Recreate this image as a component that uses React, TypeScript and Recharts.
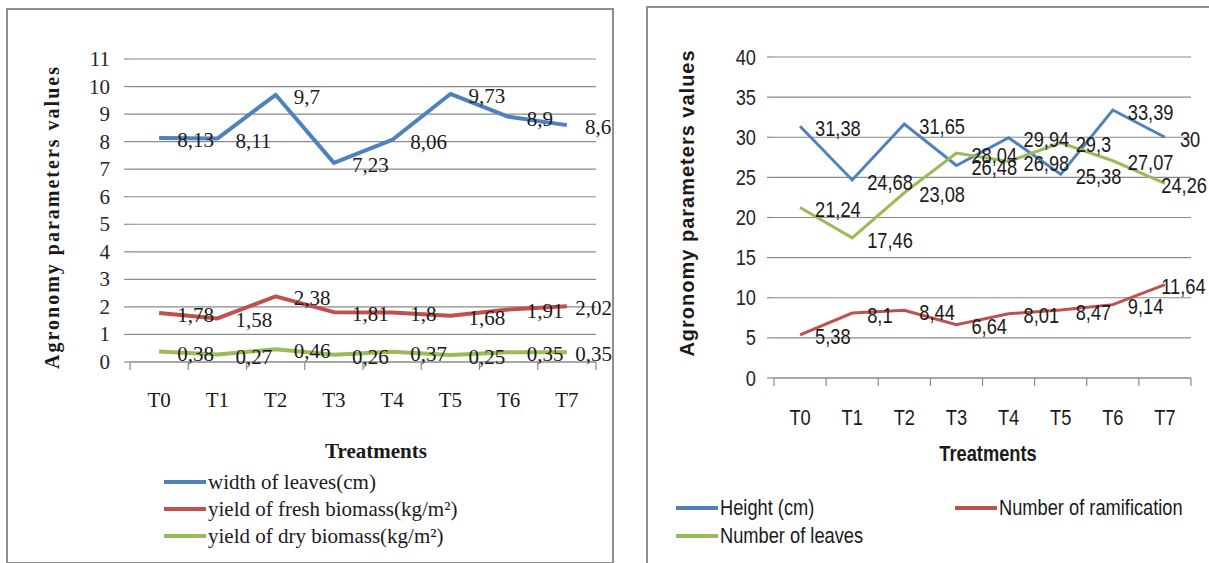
import { LineChart, Line, XAxis, YAxis, CartesianGrid, Legend, LabelList } from 'recharts';

// treatments and the two panels' series
const TREATMENTS = ['T0', 'T1', 'T2', 'T3', 'T4', 'T5', 'T6', 'T7'];

const WIDTH_LEAVES = [8.13, 8.11, 9.7, 7.23, 8.06, 9.73, 8.9, 8.6];
const FRESH_BIOMASS = [1.78, 1.58, 2.38, 1.81, 1.8, 1.68, 1.91, 2.02];
const DRY_BIOMASS = [0.38, 0.27, 0.46, 0.26, 0.37, 0.25, 0.35, 0.35];

const HEIGHT = [31.38, 24.68, 31.65, 26.48, 29.94, 25.38, 33.39, 30];
const RAMIFICATION = [5.38, 8.1, 8.44, 6.64, 8.01, 8.47, 9.14, 11.64];
const LEAVES = [21.24, 17.46, 23.08, 28.04, 26.98, 29.3, 27.07, 24.26];

const LEFT_TICKS = [0, 1, 2, 3, 4, 5, 6, 7, 8, 9, 10, 11];
const RIGHT_TICKS = [0, 5, 10, 15, 20, 25, 30, 35, 40];
// category boundaries, so tick marks fall between treatments like Excel does
const BOUNDS = [-0.5, 0.5, 1.5, 2.5, 3.5, 4.5, 5.5, 6.5, 7.5];

const leftData = TREATMENTS.map((t, i) => ({ i, t, width: WIDTH_LEAVES[i], fresh: FRESH_BIOMASS[i], dry: DRY_BIOMASS[i] }));
const rightData = TREATMENTS.map((t, i) => ({ i, t, height: HEIGHT[i], ram: RAMIFICATION[i], leaves: LEAVES[i] }));

const BLUE = '#4f81bd';
const RED = '#c0504d';
const GREEN = '#9bbb59';
const GRID = '#8a8a8a';
const INK = '#1a1a1a';
const SERIF = '"Liberation Serif", "Times New Roman", serif';
const SANS = '"Liberation Sans", Arial, sans-serif';
const SQUEEZE = 0.83; // no narrow sans installed, so squash Liberation Sans

// plain serif text (left panel)
const SText = ({ x, y, anchor = 'start', size = 21, bold = false, fill = INK, children }: any) => (
  <text x={x} y={y} textAnchor={anchor} dominantBaseline="central" fontFamily={SERIF} fontSize={size} fontWeight={bold ? 'bold' : 'normal'} fill={fill}>
    {children}
  </text>
);

// condensed sans text (right panel)
const NText = ({ x, y, anchor = 'start', size = 22, bold = false, fill = INK, children }: any) => (
  <text transform={`translate(${x} ${y}) scale(${SQUEEZE} 1)`} textAnchor={anchor} dominantBaseline="central" fontFamily={SANS} fontSize={size} fontWeight={bold ? 'bold' : 'normal'} fill={fill}>
    {children}
  </text>
);

const fmt = (v: number) => String(v).replace('.', ',');

const makeTick = (T: any, bw: number, y: number) => (props: any) => {
  const idx = Math.round(props.payload.value + 0.5);
  if (idx < 0 || idx >= TREATMENTS.length) return <g />;
  return <T x={props.x + bw / 2} y={y} anchor="middle">{TREATMENTS[idx]}</T>;
};

const makeYTick = (T: any) => (props: any) => <T x={props.x} y={props.y} anchor="end" fill="#262626">{props.payload.value}</T>;

// data labels sit right of the point, pushed back inside the panel near its edge (as Excel does)
const makeValueLabel = (T: any, dx: number, maxX: number, digitW: number, commaW: number) => (props: any) => {
  const s = fmt(props.value);
  const w = s.replace(',', '').length * digitW + (s.includes(',') ? commaW : 0);
  const x = Math.min(props.x + dx, maxX - w);
  return <T x={x} y={props.y + 2}>{s}</T>;
};

type Item = { label: string; color: string; x: number; y: number };

const makeLegend = (items: Item[], font: string, size: number, squeeze: number) => () => (
  <div style={{ position: 'relative', width: '100%', height: '100%' }}>
    {items.map(it => (
      <div key={it.label} style={{ position: 'absolute', left: it.x, top: it.y - 14, height: 28, display: 'flex', alignItems: 'center', whiteSpace: 'nowrap' }}>
        <span style={{ display: 'inline-block', width: 42, height: 4, background: it.color, marginRight: 2 }} />
        <span style={{ display: 'inline-block', fontFamily: font, fontSize: size, color: INK, transform: `scaleX(${squeeze})`, transformOrigin: 'left center' }}>{it.label}</span>
      </div>
    ))}
  </div>
);

const LW = 630, LH = 553;
const RW = 600, RH = 560;

const leftLabel = makeValueLabel(SText, 18, 605, 10.5, 5.25);
const rightLabel = makeValueLabel(NText, 15, 560, 22 * 0.556 * SQUEEZE, 22 * 0.278 * SQUEEZE);

const LeftChart = () => (
  <LineChart width={LW} height={LH} data={leftData} margin={{ top: 50, right: 41, left: 0, bottom: 160 }}>
    <CartesianGrid horizontal vertical={false} stroke={GRID} strokeWidth={1.2} />
    <XAxis
      dataKey="i" type="number" domain={[-0.5, 7.5]} ticks={BOUNDS} interval={0} height={40}
      axisLine={{ stroke: GRID, strokeWidth: 1.2 }} tickLine={{ stroke: GRID, strokeWidth: 1.2 }} tickSize={8} tickMargin={0}
      tick={makeTick(SText, 466 / 8, 391)}
      label={{ content: () => <SText x={369} y={442} anchor="middle" bold>Treatments</SText> }}
    />
    <YAxis
      domain={[0, 11]} ticks={LEFT_TICKS} interval={0} width={123}
      axisLine={false} tickLine={{ stroke: GRID, strokeWidth: 1.2 }} tickSize={6} tickMargin={14}
      tick={makeYTick(SText)}
      label={{ content: () => <text x={45} y={208} transform="rotate(-90 45 208)" textAnchor="middle" dominantBaseline="central" fontFamily={SERIF} fontWeight="bold" fontSize={20} letterSpacing={2} fill={INK}>Agronomy parameters values</text> }}
    />
    <Legend
      layout="vertical" align="center" verticalAlign="middle"
      wrapperStyle={{ left: 0, top: 0, width: LW, height: LH, pointerEvents: 'none' }}
      content={makeLegend([
        { label: 'width of leaves(cm)', color: BLUE, x: 157, y: 473 },
        { label: 'yield of fresh biomass(kg/m²)', color: RED, x: 157, y: 500 },
        { label: 'yield of dry biomass(kg/m²)', color: GREEN, x: 157, y: 527 },
      ], SERIF, 21, 1)}
    />
    <Line dataKey="width" stroke={BLUE} strokeWidth={4} dot={false} isAnimationActive={false} strokeLinejoin="round">
      <LabelList dataKey="width" content={leftLabel} />
    </Line>
    <Line dataKey="fresh" stroke={RED} strokeWidth={4} dot={false} isAnimationActive={false} strokeLinejoin="round">
      <LabelList dataKey="fresh" content={leftLabel} />
    </Line>
    <Line dataKey="dry" stroke={GREEN} strokeWidth={4} dot={false} isAnimationActive={false} strokeLinejoin="round">
      <LabelList dataKey="dry" content={leftLabel} />
    </Line>
  </LineChart>
);

const RightChart = () => (
  <LineChart width={RW} height={RH} data={rightData} margin={{ top: 50, right: 56, left: 0, bottom: 149 }}>
    <CartesianGrid horizontal vertical={false} stroke={GRID} strokeWidth={1.2} />
    <XAxis
      dataKey="i" type="number" domain={[-0.5, 7.5]} ticks={BOUNDS} interval={0} height={40}
      axisLine={{ stroke: GRID, strokeWidth: 1.2 }} tickLine={{ stroke: GRID, strokeWidth: 1.2 }} tickSize={8} tickMargin={0}
      tick={makeTick(NText, 417 / 8, 410)}
      label={{ content: () => <NText x={341} y={446} anchor="middle" bold>Treatments</NText> }}
    />
    <YAxis
      domain={[0, 40]} ticks={RIGHT_TICKS} interval={0} width={127}
      axisLine={false} tickLine={{ stroke: GRID, strokeWidth: 1.2 }} tickSize={7} tickMargin={11}
      tick={makeYTick(NText)}
      label={{ content: () => <text x={40} y={196} transform="rotate(-90 40 196)" textAnchor="middle" dominantBaseline="central" fontFamily={SANS} fontWeight="bold" fontSize={20} letterSpacing={1} fill={INK}>Agronomy parameters values</text> }}
    />
    <Legend
      layout="vertical" align="center" verticalAlign="middle"
      wrapperStyle={{ left: 0, top: 0, width: RW, height: RH, pointerEvents: 'none' }}
      content={makeLegend([
        { label: 'Height (cm)', color: BLUE, x: 29, y: 501 },
        { label: 'Number of ramification', color: RED, x: 308, y: 501 },
        { label: 'Number of leaves', color: GREEN, x: 29, y: 529 },
      ], SANS, 22, SQUEEZE)}
    />
    <Line dataKey="height" stroke={BLUE} strokeWidth={3} dot={false} isAnimationActive={false}>
      <LabelList dataKey="height" content={rightLabel} />
    </Line>
    <Line dataKey="ram" stroke={RED} strokeWidth={3} dot={false} isAnimationActive={false}>
      <LabelList dataKey="ram" content={rightLabel} />
    </Line>
    <Line dataKey="leaves" stroke={GREEN} strokeWidth={3} dot={false} isAnimationActive={false}>
      <LabelList dataKey="leaves" content={rightLabel} />
    </Line>
  </LineChart>
);

const App = () => (
  <div style={{ position: 'absolute', left: 0, top: 0, width: 1209, height: 563, overflow: 'hidden', background: '#fff' }}>
    <div style={{ position: 'absolute', left: 6, top: 8, width: 604, height: 552, border: '2px solid #8f8f8f' }} />
    <div style={{ position: 'absolute', left: 646, top: 6, width: 600, height: 600, border: '2px solid #8f8f8f' }} />
    <div style={{ position: 'absolute', left: 7, top: 9 }}>
      <LeftChart />
    </div>
    <div style={{ position: 'absolute', left: 647, top: 7 }}>
      <RightChart />
    </div>
  </div>
);

export default App;
